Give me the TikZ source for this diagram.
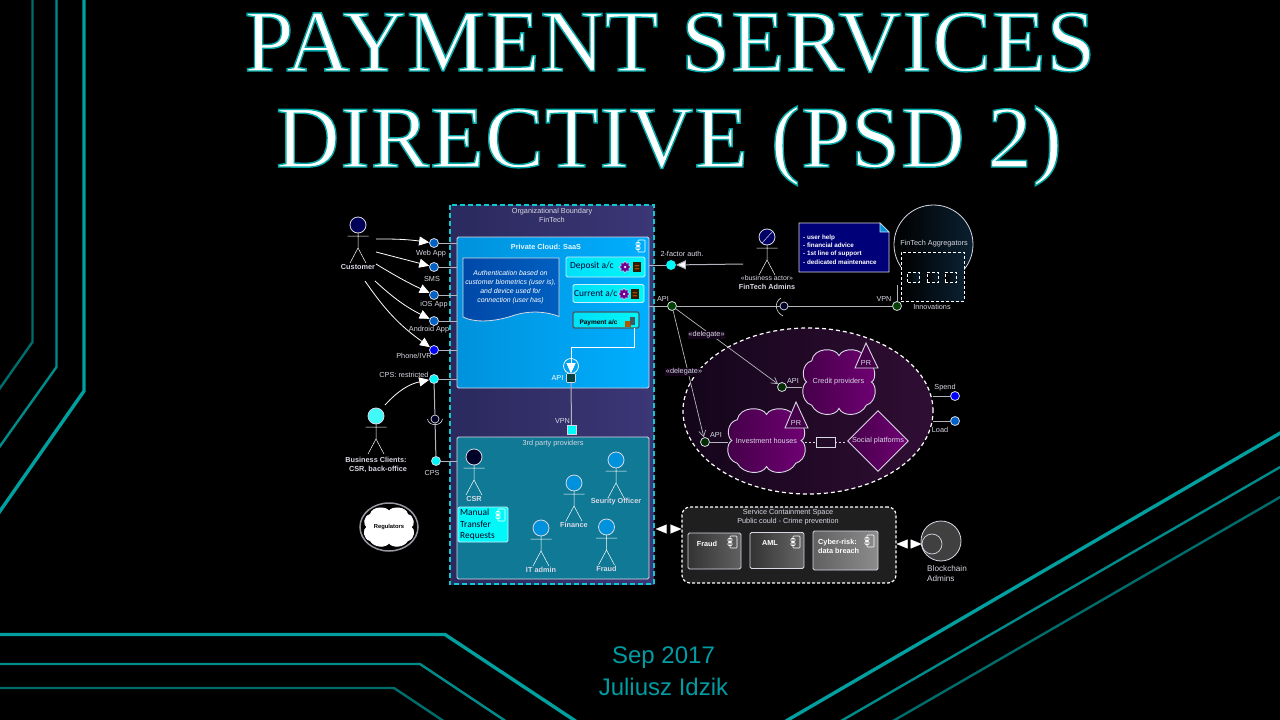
\documentclass[tikz,border=0pt]{standalone}
\usepackage{fontspec}
\setmainfont{Liberation Sans}
\newfontfamily\carl{Carlito}
\newfontfamily\titleA[LetterSpace=0.9]{Liberation Serif}
\newfontfamily\titleB[LetterSpace=1.1]{Liberation Serif}
\usetikzlibrary{arrows.meta,shapes.geometric,calc}
\definecolor{lbl}{HTML}{D8D8E4}
\definecolor{tealA}{HTML}{00A0A0}
\definecolor{tealB}{HTML}{008C8C}
\definecolor{tealC}{HTML}{006C6C}
\definecolor{bndL}{HTML}{2A2A5E}
\definecolor{bndR}{HTML}{3C3676}
\definecolor{dash}{HTML}{10C8D0}
\definecolor{cldL}{HTML}{0092DC}
\definecolor{cldR}{HTML}{00AEFF}
\definecolor{third}{HTML}{107A96}
\definecolor{cy}{HTML}{00F8F8}
\definecolor{blu}{HTML}{0060C4}
\definecolor{plL}{HTML}{440048}
\definecolor{plR}{HTML}{700074}
\definecolor{linec}{HTML}{B4B4BC}
\definecolor{zoneL}{HTML}{14051A}
\definecolor{zoneR}{HTML}{300E34}
\definecolor{docL}{HTML}{0048A8}
\definecolor{docR}{HTML}{0060C0}
\definecolor{aggR}{HTML}{0A2030}
\definecolor{footc}{HTML}{009CA4}
\tikzset{
 x=1pt,y=-1pt,
 lab/.style={inner sep=0,text=lbl,font=\fontsize{7.3}{9}\selectfont,align=center},
 blab/.style={lab,font=\fontsize{7.3}{9}\selectfont\bfseries},
 conn/.style={draw=linec,line width=1pt},
 tri/.style={draw=white,line width=.8pt,-{Triangle[length=10pt,width=9pt,fill=white]}},
 port/.style={circle,draw=lbl,line width=.8pt,minimum size=9,inner sep=0,fill=#1},
 sbox/.style={rounded corners=1.5pt,draw=#1,line width=.9pt,inner sep=0},
 dotb/.style={draw=white,line width=1pt,dash pattern=on 3pt off 2pt},
 deco/.style={draw=white,line width=1.7pt,dash pattern=on 4pt off 3pt},
 bgline/.style={line width=#1,line join=miter},
 icon/.style={draw=white,line width=.6pt,rounded corners=.8pt},
 bothtips/.style={draw=black,line width=.2pt,{Triangle[length=11pt,width=9pt,color=white,fill=white]}-{Triangle[length=11pt,width=9pt,color=white,fill=white]}}
}
\newcommand{\actorfig}[5]{% name x y fill label
 \node[circle,draw=lbl,line width=.8pt,minimum size=16,inner sep=0,fill=#4] (#1) at (#2,#3) {};
 \begin{scope}[shift={(#2,#3)}]
  \draw[draw=white,line width=.5pt] (-10.5,11) -- (10.5,11) (0,8) -- (0,23) -- (-8,38) (0,23) -- (8,38);
 \end{scope}
 \node[blab] (#1t) at (#2,#3+41.5) {#5};
}
\newcommand{\compicon}[3]{% x y colour
 \begin{scope}[shift={(#1,#2)}]
  \draw[icon,draw=#3,fill=none] (-3,-6) rectangle (4,6);
  \draw[icon,draw=#3,fill=none] (-5,-3.5) rectangle (-1,-.5);
  \draw[icon,draw=#3,fill=none] (-5,.5) rectangle (-1,3.5);
 \end{scope}
}
\newcommand{\gearicon}[2]{%
 \node[star,star points=8,star point ratio=1.5,fill=violet!85!blue,draw=white,line width=.3pt,minimum size=12,inner sep=0] at (#1,#2) {};
 \node[circle,fill=white,minimum size=2.5,inner sep=0] at (#1,#2) {};
}
\newcommand{\docicon}[2]{%
 \begin{scope}[shift={(#1,#2)}]
  \fill[black!80!orange] (-4,-5) rectangle (4,5);
  \fill[orange!60!black] (-2.5,-2) rectangle (2,-.7) (-2.5,1) rectangle (2,2.3);
 \end{scope}
}
\newcommand{\cloudpath}[7]{% x0 y0 w h left right draw
 \begin{scope}[shift={(#1,#2)},x=#3pt,y=-#4pt]
 \shade[left color=#5,right color=#6,draw=#7,line width=.9pt]
 (.5,.1) .. controls (.55,-.03) and (.85,-.03) .. (.88,.18)
 .. controls (1.02,.22) and (1.02,.48) .. (.95,.5)
 .. controls (1.03,.55) and (1.03,.8) .. (.88,.85)
 .. controls (.8,1.03) and (.55,1.03) .. (.5,.9)
 .. controls (.45,1.03) and (.2,1.03) .. (.12,.85)
 .. controls (-.03,.8) and (-.03,.55) .. (.05,.5)
 .. controls (-.02,.45) and (-.02,.22) .. (.12,.18)
 .. controls (.15,-.03) and (.45,-.03) .. (.5,.1) -- cycle;
 \end{scope}
}
\begin{document}
\begin{tikzpicture}
\useasboundingbox (0,0) rectangle (1280,720);
\fill[black] (0,0) rectangle (1280,720);
% background lines
\draw[bgline=3.4pt,tealA] (84,0) -- (84,391) -- (-2,514);
\draw[bgline=2.4pt,tealB] (56.5,0) -- (56.5,367) -- (-2,449);
\draw[bgline=2.4pt,tealC] (32.5,0) -- (32.5,342) -- (-2,391);
\draw[bgline=3.4pt,tealA] (-2,634.5) -- (445,634.5) -- (577,722);
\draw[bgline=2.4pt,tealB] (-2,664) -- (420,664) -- (507,722);
\draw[bgline=2.4pt,tealC] (-2,688) -- (394,688) -- (445,722);
\draw[bgline=3.4pt,tealA] (1282,432) -- (786,721);
\draw[bgline=2.4pt,tealB] (1282,466) -- (841,721);
\draw[bgline=2.4pt,tealC] (1282,496) -- (893,721);
% title
\node[inner sep=0,text=white,anchor=base,font=\fontsize{88}{88}\selectfont\titleA] (t1) at (670,71)
 {\special{pdf:code 2 Tr 1.4 w 0 0.66 0.66 RG}PAYMENT SERVICES\special{pdf:code 0 Tr}};
\node[inner sep=0,text=white,anchor=base,font=\fontsize{88}{88}\selectfont\titleB] (t2) at (669,167)
 {\special{pdf:code 2 Tr 1.4 w 0 0.66 0.66 RG}DIRECTIVE (PSD 2)\special{pdf:code 0 Tr}};
% footer
\node[inner sep=0,text=footc,font=\fontsize{24}{24}\selectfont] (f1) at (663.5,658) {Sep 2017};
\node[inner sep=0,text=footc,font=\fontsize{24}{24}\selectfont] (f2) at (663.5,686.5) {Juliusz Idzik};
% organisational boundary
\node[rectangle,left color=bndL,right color=bndR,draw=none,minimum width=204,minimum height=379,inner sep=0] (org) at (552,394.5) {};
\draw[draw=dash,line width=1.7pt,dash pattern=on 5pt off 3pt] (org.north west) rectangle (org.south east);
\node[lab] (orgt) at (552,215.5) {Organizational Boundary\\FinTech};
% private cloud
\node[sbox=lbl,left color=cldL,right color=cldR,minimum width=192,minimum height=151] (cloud) at (553,312.5) {};
\node[blab,text=white!90!cyan] (cloudt) at (546,247) {Private Cloud: SaaS};
\compicon{641}{246}{white}
% wave doc
\shade[left color=docL,right color=docR,draw=lbl,line width=.8pt]
 (463,258) -- (559,258) -- (559,316.5) .. controls (548,312) and (532,310) .. (515,315) .. controls (495,322) and (475,323) .. (463,317) -- cycle;
\node[inner sep=0,text=white,font=\fontsize{6.9}{9}\selectfont\itshape,align=center] (auth) at (510.5,287)
 {Authentication based on\\customer biometrics (user is),\\and device used for\\connection (user has)};
% accounts
\node[sbox=white!80!cyan,minimum width=79,minimum height=20,left color=cy!90!blue,right color=cy] (dep) at (605.5,267) {};
\node[inner sep=0,anchor=west,text=black!80!blue,font=\fontsize{9.4}{11}\selectfont\carl] (dept) at (570,266) {Deposit a/c};
\gearicon{625}{267}\docicon{637}{267}
\node[sbox=white!80!cyan,left color=cy!90!blue,right color=cy,minimum width=71,minimum height=18] (cur) at (608.5,293.5) {};
\node[inner sep=0,anchor=west,text=black!80!blue,font=\fontsize{9.4}{11}\selectfont\carl] (curt) at (574,293) {Current a/c};
\gearicon{624}{294}\docicon{635}{294}
\node[sbox=black!70!cyan,line width=1.1pt,left color=cy!90!blue,right color=cy,minimum width=66,minimum height=16] (pay) at (606,320) {};
\node[inner sep=0,text=black,font=\fontsize{6.5}{8}\selectfont\bfseries] (payt) at (598.5,323) {Payment a/c};
\fill[orange!70!black] (625,321) rectangle (631,327);
\fill[black!70!cyan] (630,317) rectangle (635,325);
% api
\node[circle,draw=white,line width=.7pt,minimum size=15,inner sep=0] (apic) at (571,366) {};
\node[rectangle,rounded corners=1pt,draw=lbl,line width=.6pt,fill=teal!55!black,minimum size=9,inner sep=0] (api) at (571,378) {};
\node[lab,text=white] (apit) at (557.5,378) {API};
\coordinate (payout) at (634,328);
\coordinate (paybend) at (571,347);
\draw[tri,line width=.6pt] (payout) |- (paybend) -- (api.north);
% third party
\node[sbox=lbl,fill=third,minimum width=192,minimum height=142] (tp) at (553,508) {};
\node[lab] (tpt) at (553,444) {3rd party providers};
\node[rectangle,draw=lbl,line width=.6pt,fill=cy,minimum size=9,inner sep=0] (vpn) at (571.5,430) {};
\node[lab] (vpnt) at (562.5,421) {VPN};
\draw[conn] (api) -- (vpn);
\actorfig{csr}{474}{457}{black!85!blue}{CSR}
\actorfig{sec}{616}{460}{cldL}{Seurity Officer}
\actorfig{fin}{574}{483}{cldL}{Finance}
\actorfig{ita}{541}{528}{cldL}{IT admin}
\actorfig{frd}{606.5}{527}{cldL}{Fraud}
\node[sbox=white!80!cyan,fill=cy,minimum width=50,minimum height=35] (man) at (483,524.5) {};
\node[inner sep=0,anchor=west,text=black!85!blue,align=left,font=\fontsize{9.4}{11.5}\selectfont\carl] (mant) at (460,524.5) {Manual\\Transfer\\Requests};
\compicon{501}{515}{white}
% customer
\actorfig{cust}{358}{225}{blue!35!black}{Customer}
\node[port=blu] (web) at (434,243) {};
\node[port=blu] (sms) at (434,267) {};
\node[port=blu] (ios) at (434,295) {};
\node[port=blu] (and) at (434,321) {};
\node[port=blue] (ivr) at (434,350) {};
\node[port=cy] (cpsr) at (434,379) {};
\node[lab] (webt) at (431,253.5) {Web App};
\node[lab] (smst) at (432,278.5) {SMS};
\node[lab] (iost) at (434,305) {iOS App};
\node[lab] (andt) at (429,330) {Android App};
\node[lab] (ivrt) at (414,356) {Phone/IVR};
\node[lab] (cpsrt) at (404,375) {CPS: restricted};
\foreach \p in {web,sms,ios,and,ivr,cpsr}{\draw[conn] (\p) -- (\p -| cloud.west);}
\coordinate (c1) at (376,239);\coordinate (c2) at (376,252);\coordinate (c3) at (376,264);
\coordinate (c4) at (375,281);\coordinate (c5) at (365,281);\coordinate (b1) at (385,405);
\draw[tri] (c1) to[bend left=4] (web);
\draw[tri] (c2) -- (sms);
\draw[tri] (c3) to[bend right=3] (ios);
\draw[tri] (c4) to[bend right=8] (and);
\draw[tri] (c5) to[bend right=10] (ivr);
\draw[tri] (b1) to[bend left=18] (cpsr);
% business clients
\actorfig{biz}{376}{416}{cy!75!white}{}
\node[blab] (bizt) at (376,464.5) {Business Clients:\\\ \ CSR, back-office};
\node[circle,draw=lbl,line width=.7pt,fill=black!85!blue,minimum size=8,inner sep=0] (sock1) at (435,419) {};
\node[port=cy] (cps) at (436,461) {};
\node[lab] (cpst) at (432,472.5) {CPS};
\draw[conn] (cpsr) -- (sock1) -- (cps);
\draw[conn] (cps) -- (cps -| tp.west);
\draw[draw=lbl,line width=.6pt] (427.5,419) .. controls (428.5,426.5) and (441.5,426.5) .. (442.5,419);
% regulators
\node[ellipse,draw=lbl!70!black,line width=1.5pt,fill=black,minimum width=58,minimum height=48,inner sep=0] (reg) at (389,527) {};
\cloudpath{364.5}{507.5}{49}{39}{white}{white}{white}
\node[inner sep=0,text=black,font=\fontsize{5.8}{7}\selectfont\bfseries] (regt) at (389,527) {Regulators};
% 2 factor
\node[port=cy,draw=cy] (fa) at (671,265) {};
\node[lab] (fat) at (682,254) {2-factor auth.};
\coordinate (admend) at (743,264);
\coordinate (depout) at (649,265);
\draw[conn] (depout) -- (fa);
\draw[tri,line width=1pt,draw=linec] (admend) -- (fa);
\actorfig{adm}{767}{237}{blue!40!black}{}
\draw[draw=lbl,line width=.5pt] (762,243) -- (773,231);
\node[lab,font=\fontsize{6.9}{8}\selectfont] (admt1) at (767,278.5) {«business actor»};
\node[blab] (admt2) at (767,287) {FinTech Admins};
% note
\fill[fill=blue!47!black,draw=lbl,line width=.8pt] (799,223) -- (880,223) -- (889,232) -- (889,272) -- (799,272) -- cycle;
\draw[fill=cldL,draw=lbl,line width=.6pt] (880,223) -- (880,232) -- (889,232) -- cycle;
\node[inner sep=0,anchor=west,text=white,align=left,font=\fontsize{6.3}{8.3}\selectfont\bfseries] (note) at (803,249.5) {- user help\\- financial advice\\- 1st line of support\\- dedicated maintenance};
% aggregators
\node[circle,left color=black,right color=aggR,draw=lbl,line width=.8pt,minimum size=79,inner sep=0] (agg) at (933.5,244.5) {};
\node[rectangle,left color=black,right color=aggR,dotb,minimum width=63,minimum height=49,inner sep=0] (inn) at (932.5,276.5) {};
\node[lab] (aggt) at (934,244) {FinTech Aggregators};
\foreach \x/\n in {913.5/i1,933/i2,951/i3}{
 \node[rectangle,left color=black,right color=aggR,dotb,line width=.8pt,minimum width=11.5,minimum height=10,inner sep=0] (\n) at (\x,277) {};}
\node[lab] (innt) at (932,306.5) {Innovations};
% api/vpn bus
\node[port=green!25!black] (apib) at (672,306) {};
\node[lab] (apibt) at (663,299) {API};
\node[port=green!25!black] (vpnb) at (897,306) {};
\node[lab] (vpnbt) at (884,299) {VPN};
\node[circle,draw=lbl,line width=.7pt,fill=black!85!blue,minimum size=8,inner sep=0] (sock2) at (784,306) {};
\coordinate (apil) at (649,306);
\coordinate (vpnup) at (897,285);
\draw[conn] (apil) -- (apib) -- (sock2) -- (vpnb);
\draw[conn] (vpnup) -- (vpnb);
\draw[draw=lbl,line width=.6pt] (781,298) .. controls (774,302) and (775,312) .. (783,316);
% ellipse
\node[ellipse,left color=zoneL,right color=zoneR,deco,line width=1.2pt,minimum width=250,minimum height=166,inner sep=0] (zone) at (808,411) {};
\cloudpath{803}{349}{72}{66}{plL}{plR}{lbl}
\node[lab,minimum width=72] (credit) at (838.5,382) {Credit providers};
\cloudpath{728}{408}{77}{65}{plL}{plR}{lbl}
\node[lab,minimum width=77] (invest) at (766.5,441) {Investment houses};
\fill[fill=plL,draw=lbl,line width=.9pt] (866,343) -- (878,368) -- (855,368) -- cycle;
\node[lab] (pr1) at (866,362.5) {PR};
\fill[fill=plL,draw=lbl,line width=.9pt] (796,402) -- (808,428) -- (785,428) -- cycle;
\node[lab] (pr2) at (796,422.5) {PR};
\node[diamond,aspect=1,left color=plL,right color=plR,draw=lbl,line width=.9pt,minimum size=61,inner sep=0] (soc) at (878,441) {};
\node[lab] (soct) at (878,441) {Social platforms};
\node[rectangle,draw=lbl,line width=.7pt,minimum width=19,minimum height=10,inner sep=0] (mid) at (825.5,442) {};
\draw[draw=lbl,line width=.7pt,dash pattern=on 2pt off 2pt] (mid -| invest.east) -- (mid) -- (soc.west |- mid);
\node[port=green!18!black] (api2) at (782,387) {};
\node[lab] (api2t) at (793,381) {API};
\node[port=green!18!black] (api3) at (705,442) {};
\node[lab] (api3t) at (716,435) {API};
\draw[conn] (api2) -- (api2 -| credit.west);
\draw[conn] (api3) -- (api3 -| invest.west);
\draw[draw=linec,line width=.7pt,-{Straight Barb[length=6pt,width=7pt]}] (apib) -- (api2);
\draw[draw=linec,line width=.7pt,-{Straight Barb[length=6pt,width=7pt]}] (apib) -- (api3);
\node[lab,fill=zoneL,inner sep=.6pt] (del1) at (706.5,334.5) {«delegate»};
\node[lab,fill=zoneL,inner sep=.6pt] (del2) at (684,371.5) {«delegate»};
% spend / load
\node[port=blue] (sp) at (955,396) {};
\node[port=blu] (lo) at (955,421) {};
\node[lab] (spt) at (945,388) {Spend};
\node[lab] (lot) at (940,430) {Load};
\coordinate (zs) at (932.5,396);\coordinate (zl) at (932.5,421);
\draw[conn] (zs) -- (sp);
\draw[conn] (zl) -- (lo);
% service space
\node[rectangle,rounded corners=8pt,fill=black!88,dotb,line width=1.2pt,minimum width=214,minimum height=76,inner sep=0] (svc) at (789,545) {};
\node[lab] (svct) at (788,517.5) {Service Containment Space\\Public could - Crime prevention};
\node[sbox=lbl,left color=black!80,right color=black!62,minimum width=53,minimum height=36] (bfr) at (714.5,551) {};
\node[blab,text=white] (bfrt) at (707,544) {Fraud};
\compicon{733}{542}{white}
\node[sbox=lbl,left color=black!80,right color=black!60,minimum width=54,minimum height=36] (baml) at (777,550.5) {};
\node[blab,text=white] (bamlt) at (770,543) {AML};
\compicon{796}{542}{white}
\node[sbox=lbl,left color=black!62,right color=black!45,minimum width=65,minimum height=39] (bcy) at (845.5,550.5) {};
\node[blab,text=white,align=left,anchor=west] (bcyt) at (818,546.5) {Cyber-risk:\\data breach};
\compicon{870}{541}{white}
% blockchain
\node[circle,fill=black!75,draw=lbl,line width=.8pt,minimum size=40,inner sep=0] (bc) at (941,541) {};
\node[circle,draw=lbl,line width=.7pt,minimum size=20,inner sep=0] (bc2) at (932,544) {};
\node[lab,anchor=west,align=left,font=\fontsize{8.2}{10}\selectfont,text=lbl] (bct) at (927,574) {Blockchain\\Admins};
% double arrows
\coordinate (orgm) at (669,529);
\draw[bothtips] ($(org.east |- orgm)+(1.5,0)$) -- (svc.west |- orgm);
\coordinate (bcm) at (908,544);
\draw[bothtips] (svc.east |- bcm) -- (bc2.west);
\end{tikzpicture}
\end{document}
